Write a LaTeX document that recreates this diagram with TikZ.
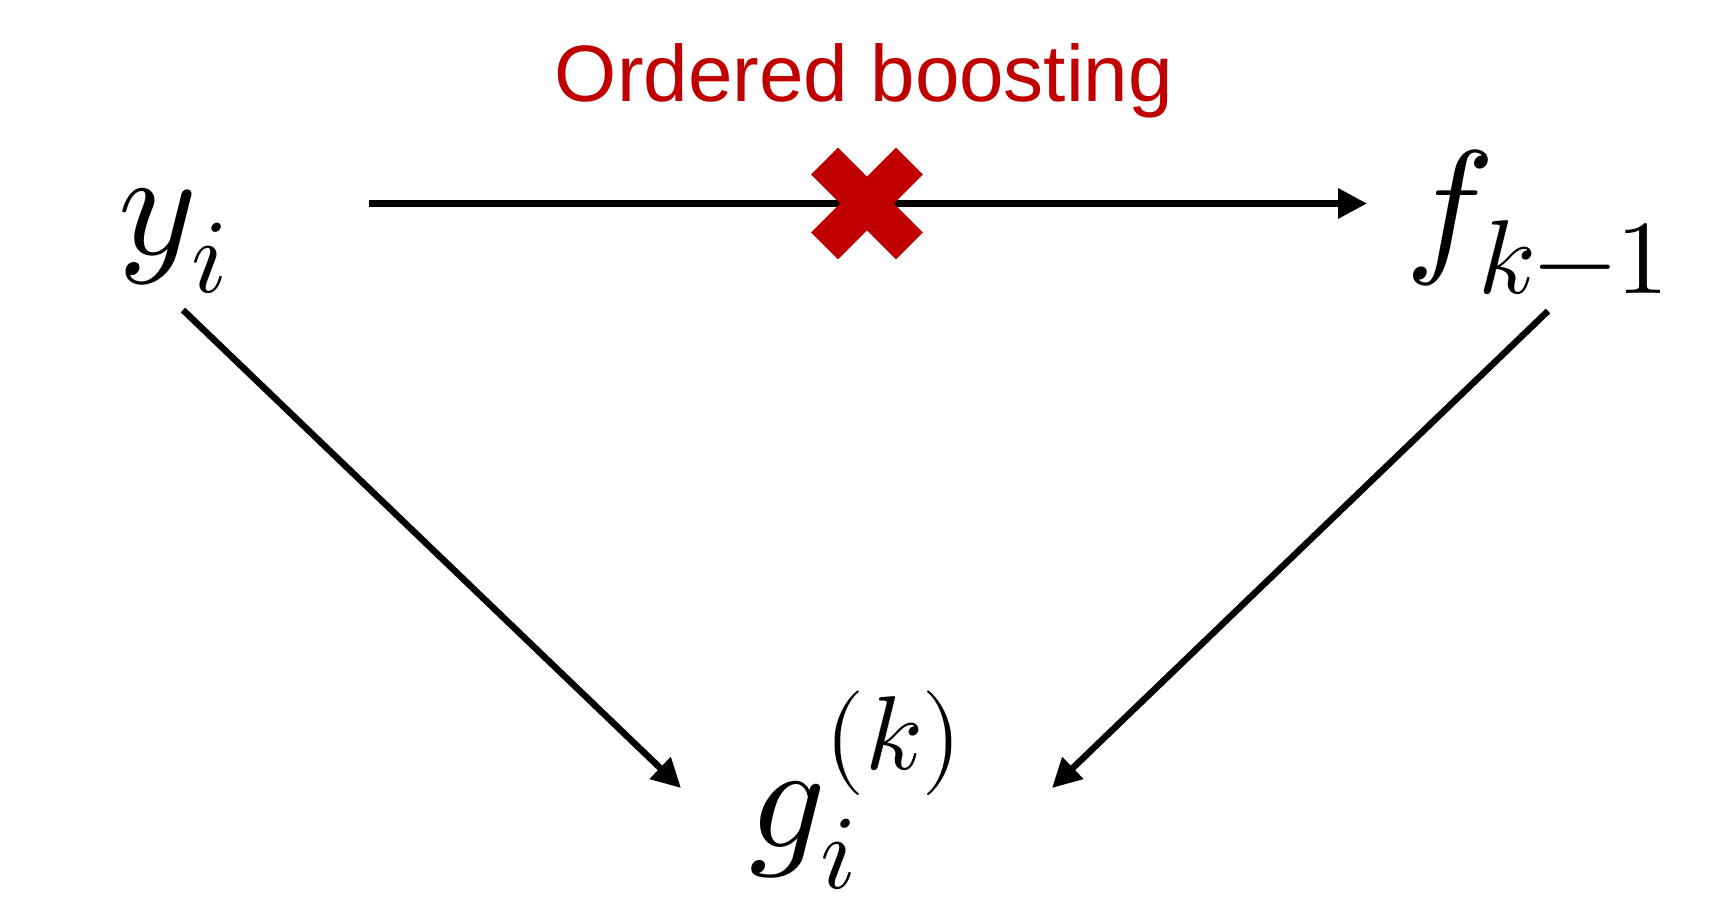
\documentclass[tikz,border=0pt]{standalone}
\usepackage{unicode-math}
\newfontfamily\titlefont{Liberation Sans}
\usetikzlibrary{arrows.meta,calc}
\definecolor{crossred}{HTML}{C00000}
\tikzset{
  mathlabel/.style={inner sep=0pt, font=\fontsize{150}{180}\selectfont},
  titlelabel/.style={inner sep=0pt, text=crossred, font=\titlefont\fontsize{80}{96}\selectfont},
  conn/.style={line width=6.5pt, -{Triangle[length=29pt,width=29pt]}},
  crossbar/.style={line width=38pt, crossred, line cap=butt}
}
\begin{document}
\begin{tikzpicture}[x=1pt,y=-1pt]
  \useasboundingbox[fill=white] (0,0) rectangle (1732,917);
  % labels
  \node[titlelabel, anchor=base] (title) at (864,102) {Ordered boosting};
  \node[mathlabel, anchor=base west] (yi) at (118,255) {$y_i$};
  \node[mathlabel, anchor=base west] (fk) at (1405,256) {$f_{k-1}$};
  \node[mathlabel, anchor=base] (gik) at (856,847) {$g_i^{(k)}$};
  % connector end points
  \coordinate (yiR) at (369,203.5);
  \coordinate (fkL) at (1367,203.5);
  \coordinate (yiB) at (183,310);
  \coordinate (fkB) at (1548,311);
  \coordinate (gL) at (681,788);
  \coordinate (gR) at (1052,788);
  \coordinate (xc) at (867,203.5);
  % connectors
  \draw[conn] (yiR) -- (fkL);
  \draw[conn] (yiB) -- (gL);
  \draw[conn] (fkB) -- (gR);
  % red cross
  \draw[crossbar] ($(xc)+(-42.4,-42.4)$) -- ($(xc)+(42.4,42.4)$);
  \draw[crossbar] ($(xc)+(-42.4,42.4)$) -- ($(xc)+(42.4,-42.4)$);
\end{tikzpicture}
\end{document}
